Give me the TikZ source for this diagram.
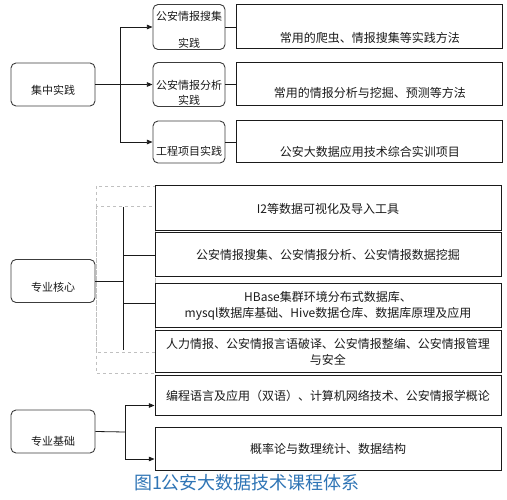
\documentclass[tikz,border=0pt]{standalone}
\usepackage{fontspec}
\setmainfont{Noto Sans CJK SC}
\usetikzlibrary{arrows.meta,positioning}
\definecolor{capBlue}{HTML}{2E74B5}
\definecolor{guideGray}{HTML}{C0C0C0}
\definecolor{inkBlack}{HTML}{1A1A1A}

\begin{document}
\begin{tikzpicture}[
  x=1pt, y=-1pt,
  >={Triangle[length=2mm,width=1.6mm]},
  line width=0.8pt,
  every node/.style={inner sep=2pt},
  % --- Reusable styles -------------------------------------------------------
  rootbox/.style={               % rounded group box on the left
    rectangle, rounded corners=5pt,
    draw=inkBlack!85, line width=0.9pt, text=inkBlack,
    minimum width=84pt, minimum height=43pt,
    font=\fontsize{11}{13}\selectfont,
  },
  subbox/.style={                % rounded practice box, height via #1
    rectangle, rounded corners=5pt,
    draw=inkBlack!85, line width=0.9pt, text=inkBlack,
    minimum width=72pt, minimum height=#1, align=center,
    font=\fontsize{11}{13}\selectfont,
  },
  descbox/.style={               % plain course box, height via #1
    rectangle, draw=inkBlack, line width=1pt, text=inkBlack,
    minimum width=346pt, minimum height=#1, align=center,
    font=\fontsize{12}{16}\selectfont,
  },
  drop/.style={text height=#1, text depth=0pt},   % push text down in its box
  flow/.style={->, draw=inkBlack},
  link/.style={draw=inkBlack},
  guide/.style={draw=guideGray, dashed, line width=0.6pt},
  caption/.style={text=capBlue, font=\fontsize{18}{20}\selectfont},
]
\useasboundingbox (0,0) rectangle (507,500);

% --- Top group: 集中实践 -------------------------------------------------------
\node[rootbox, drop=21pt]                  (jz)  at (53,84.5) {集中实践};
\node[subbox=44pt, text height=41pt, text depth=-2pt]   (sj1) at (189,27)   {公安情报搜集\\[14pt]实践};
\node[subbox=43pt, text height=40pt, text depth=-1.4pt] (sj2) at (189,84.5) {公安情报分析\\[2pt]实践};
\node[subbox=42pt, drop=28pt]              (sj3) at (189,142)  {工程项目实践};
\node[descbox=44pt, minimum width=266pt, drop=31pt, right=11pt of sj1] (ms1) {常用的爬虫、情报搜集等实践方法};
\node[descbox=43pt, minimum width=266pt, drop=27pt, right=11pt of sj2] (ms2) {常用的情报分析与挖掘、预测等方法};
\node[descbox=42pt, minimum width=266pt, drop=29pt, right=11pt of sj3] (ms3) {公安大数据应用技术综合实训项目};

\coordinate (jzfork) at (120,84.5);
\draw[link] (jz.east) -- (jzfork);
\draw[flow] (jzfork) |- (sj1.west);
\draw[flow] (jzfork) -- (sj2.west);
\draw[flow] (jzfork) |- (sj3.west);
\foreach \i in {1,2,3} \draw[link] (sj\i.east) -- (ms\i.west);

% --- Middle group: 专业核心 ----------------------------------------------------
\draw[guide] (96,186) rectangle (155,352);
\draw[guide] (96,206) rectangle (155,373);

\node[rootbox, drop=22pt]                (hx)  at (53,281) {专业核心};
\node[descbox=45pt]                      (hxA) at (328,208.5) {I2等数据可视化及导入工具};
\node[descbox=44pt, below=1pt of hxA]    (hxB) {公安情报搜集、公安情报分析、公安情报数据挖掘};
\node[descbox=43.5pt, below=6pt of hxB]  (hxC) {HBase集群环境分布式数据库、\\mysql数据库基础、Hive数据仓库、数据库原理及应用};
\node[descbox=42pt, below=2pt of hxC]    (hxD) {人力情报、公安情报言语破译、公安情报整编、公安情报管理\\与安全};

\coordinate (hxfork) at (123,281);
\coordinate (hxtop)  at (123,207);
\coordinate (hxbot)  at (123,350);
\draw[link] (hx.east) -- (hxfork);
\draw[link] (hxtop) -- (hxbot);
\draw[link] (hxfork |- hxB.west) -- (hxB.west);
\draw[link] ([yshift=2pt]hxfork |- hxC.west) -- ([yshift=2pt]hxC.west);

% --- Bottom group: 专业基础 ----------------------------------------------------
\node[rootbox, drop=28pt]                (jc)  at (53,431.5) {专业基础};
\node[descbox=40pt, below=2pt of hxD]    (jcE) {编程语言及应用（双语）、计算机网络技术、公安情报学概论};
\node[descbox=42pt]                      (jcF) at (328,449) {概率论与数理统计、数据结构};

\coordinate (jcfork) at (125,432);
\draw[link] (jc.east) -- (jcfork);
\draw[flow] (jcfork) |- ([yshift=-10pt]jcE.west);
\draw[flow] (jcfork) |- ([yshift=-10pt]jcF.west);

% --- Caption -----------------------------------------------------------------
\node[caption] (cap) at (247,483) {图1公安大数据技术课程体系};

\end{tikzpicture}
\end{document}
